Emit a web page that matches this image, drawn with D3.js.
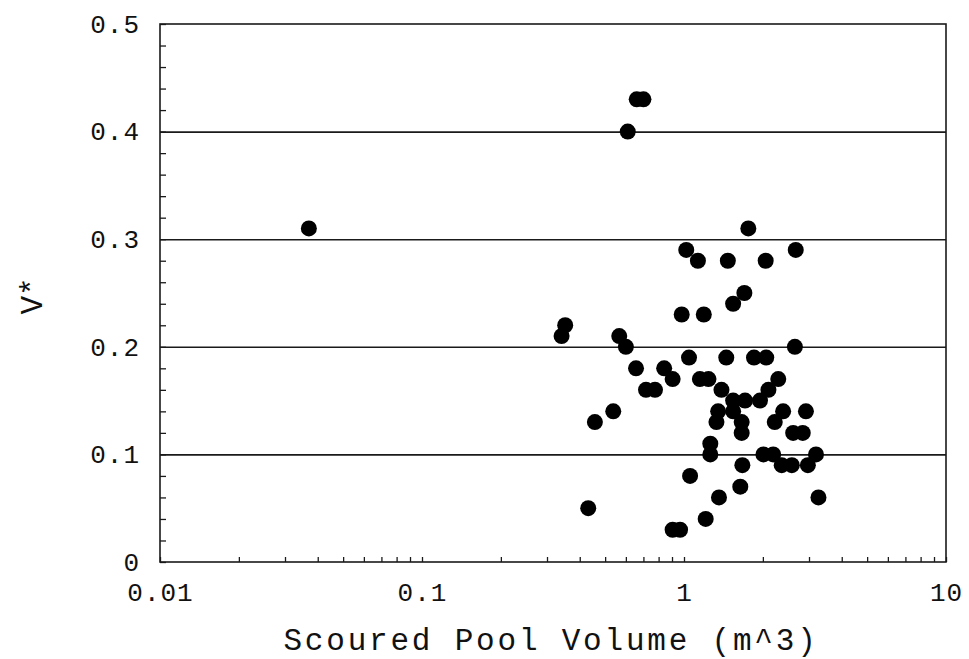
<!DOCTYPE html>
<html>
<head>
<meta charset="utf-8">
<script src="https://cdn.jsdelivr.net/npm/d3@7/dist/d3.min.js"></script>
<style>
  html, body { margin: 0; padding: 0; background: #fff; }
  svg { display: block; }
  text { font-family: "Liberation Mono", "DejaVu Sans Mono", monospace; fill: #111; }
</style>
</head>
<body>
<script>
// ---- data ----
const volume = [
  0.037, 0.61, 0.66, 0.70, 0.352, 0.341, 0.566, 0.600, 0.457, 0.537,
  0.431, 0.656, 0.716, 0.775, 0.84, 0.905, 0.905, 0.966, 0.98, 1.02,
  1.045, 1.055, 1.13, 1.15, 1.24, 1.19, 1.21, 1.26, 1.26, 1.35,
  1.33, 1.36, 1.39, 1.45, 1.47, 1.54, 1.54, 1.54, 1.64, 1.66,
  1.66, 1.67, 1.70, 1.71, 1.76, 1.85, 1.95, 2.01, 2.05, 2.06,
  2.10, 2.19, 2.22, 2.29, 2.39, 2.36, 2.58, 2.67, 2.65, 2.61,
  2.84, 2.92, 2.97, 3.19, 3.26
];
const vstar = [
  0.31, 0.40, 0.43, 0.43, 0.22, 0.21, 0.21, 0.20, 0.13, 0.14,
  0.05, 0.18, 0.16, 0.16, 0.18, 0.17, 0.03, 0.03, 0.23, 0.29,
  0.19, 0.08, 0.28, 0.17, 0.17, 0.23, 0.04, 0.11, 0.10, 0.14,
  0.13, 0.06, 0.16, 0.19, 0.28, 0.24, 0.15, 0.14, 0.07, 0.13,
  0.12, 0.09, 0.25, 0.15, 0.31, 0.19, 0.15, 0.10, 0.28, 0.19,
  0.16, 0.10, 0.13, 0.17, 0.14, 0.09, 0.09, 0.29, 0.20, 0.12,
  0.12, 0.14, 0.09, 0.10, 0.06
];
const xTickValues = [0.01, 0.1, 1, 10];
const xTickLabels = ["0.01", "0.1", "1", "10"];
const yTickValues = [0, 0.1, 0.2, 0.3, 0.4, 0.5];
const yTickLabels = ["0", "0.1", "0.2", "0.3", "0.4", "0.5"];
const yGridValues = [0.1, 0.2, 0.3, 0.4];
const xTitle = "Scoured Pool Volume (m^3)";
const yTitle = "V*";

// ---- layout ----
const W = 969, H = 659;
const L = 160, R = 946, T = 24, B = 562;

const svg = d3.select("body").append("svg").attr("width", W).attr("height", H);

const x = d3.scaleLog().domain([0.01, 10]).range([L, R]);
const y = d3.scaleLinear().domain([0, 0.5]).range([B, T]);

const ink = "#1a1a1a";

// gridlines
const grid = svg.append("g").attr("transform", `translate(${L},0)`)
  .call(d3.axisLeft(y).tickValues(yGridValues).tickSize(-(R - L)).tickFormat(""));
grid.select(".domain").remove();
grid.selectAll("line").attr("stroke", ink).attr("stroke-width", 1.6);

// minor ticks y (every 0.02, inward)
const yMinor = d3.range(0, 0.5001, 0.02);
const ym = svg.append("g").attr("transform", `translate(${L},0)`)
  .call(d3.axisLeft(y).tickValues(yMinor).tickSize(-6).tickFormat(""));
ym.select(".domain").remove();
ym.selectAll("line").attr("stroke", ink).attr("stroke-width", 1.3);

// minor ticks x (inward, upward)
const xMinor = [];
[0.01, 0.1, 1].forEach(d => { for (let k = 1; k <= 9; k++) xMinor.push(d * k); });
xMinor.push(10);
const xm = svg.append("g").attr("transform", `translate(0,${B})`)
  .call(d3.axisBottom(x).tickValues(xMinor).tickSize(-5).tickFormat(""));
xm.select(".domain").remove();
xm.selectAll("line").attr("stroke", ink).attr("stroke-width", 1.3);

// frame
svg.append("rect").attr("x", L).attr("y", T).attr("width", R - L).attr("height", B - T)
  .attr("fill", "none").attr("stroke", ink).attr("stroke-width", 1.6);

// tick labels
const xa = svg.append("g").attr("transform", `translate(0,${B})`)
  .call(d3.axisBottom(x).tickValues(xTickValues).tickSize(0).tickPadding(21)
    .tickFormat((d, i) => xTickLabels[i]));
xa.select(".domain").remove();
xa.selectAll("text").attr("font-size", 26).attr("font-family", "Liberation Mono").attr("fill", "#111")
  .attr("letter-spacing", 1);

const ya = svg.append("g").attr("transform", `translate(${L},0)`)
  .call(d3.axisLeft(y).tickValues(yTickValues).tickSize(0).tickPadding(20)
    .tickFormat((d, i) => yTickLabels[i]));
ya.select(".domain").remove();
ya.selectAll("text").attr("font-size", 26).attr("font-family", "Liberation Mono").attr("fill", "#111")
  .attr("letter-spacing", 1);

// points
svg.append("g").selectAll("circle")
  .data(volume.map((v, i) => [v, vstar[i]]))
  .join("circle")
  .attr("cx", d => x(d[0]))
  .attr("cy", d => y(d[1]))
  .attr("r", 8)
  .attr("fill", "#000");

// axis titles
svg.append("text")
  .attr("x", (L + R) / 2 - 2).attr("y", 650)
  .attr("text-anchor", "middle")
  .attr("font-size", 31).attr("letter-spacing", 2.8)
  .text(xTitle);

svg.append("text")
  .attr("transform", `translate(42,296) rotate(-90)`)
  .attr("text-anchor", "middle")
  .attr("font-size", 31)
  .text(yTitle);
</script>
</body>
</html>
